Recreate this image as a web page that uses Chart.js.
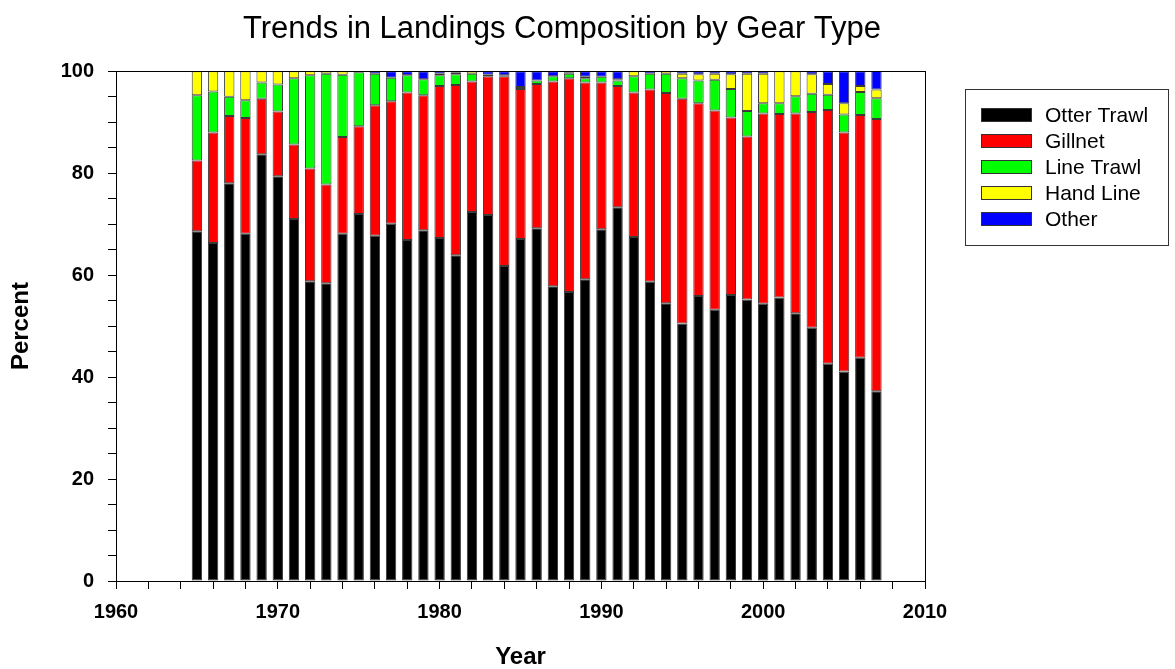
<!DOCTYPE html>
<html lang="en">
  <head>
    <meta charset="UTF-8" />
    <title>Trends in Landings Composition by Gear Type</title>
    <script src="https://cdn.jsdelivr.net/npm/chart.js@4.4.0/dist/chart.umd.min.js"></script>
    <style>
      body { margin: 0; background: #fff; }
    </style>
  </head>
  <body>
    <canvas id="chart" width="1175" height="669"></canvas>
    <script>
      // percent of landings by gear, 1965-2007
      const years = [
        1965, 1966, 1967, 1968, 1969, 1970, 1971, 1972, 1973, 1974, 1975, 1976, 1977, 1978, 1979,
        1980, 1981, 1982, 1983, 1984, 1985, 1986, 1987, 1988, 1989, 1990, 1991, 1992, 1993, 1994,
        1995, 1996, 1997, 1998, 1999, 2000, 2001, 2002, 2003, 2004, 2005, 2006, 2007,
      ];
      const otterTrawl = [
        68.6, 66.3, 78.0, 68.1, 83.7, 79.4, 71.0, 58.8, 58.4, 68.1, 72.0, 67.7, 70.1, 66.9, 68.8,
        67.3, 63.9, 72.4, 71.8, 61.8, 67.1, 69.2, 57.8, 56.7, 59.2, 69.0, 73.3, 67.5, 58.7, 54.5,
        50.5, 55.9, 53.2, 56.1, 55.2, 54.4, 55.6, 52.5, 49.7, 42.6, 41.1, 43.8, 37.2,
      ];
      const gillnet = [
        13.9, 21.7, 13.2, 22.7, 10.9, 12.7, 14.6, 22.1, 19.4, 19.0, 17.2, 25.6, 24.0, 28.9, 26.5,
        29.8, 33.4, 25.6, 27.2, 37.2, 29.4, 28.3, 40.2, 41.9, 38.6, 28.8, 23.8, 28.3, 37.7, 41.2,
        44.1, 37.8, 39.1, 34.8, 32.0, 37.3, 36.0, 39.2, 42.3, 49.8, 46.9, 47.6, 53.4,
      ];
      const lineTrawl = [
        12.8, 8.0, 3.8, 3.5, 3.2, 5.3, 13.0, 18.3, 21.7, 12.2, 10.6, 6.2, 4.6, 3.4, 3.1,
        2.1, 2.1, 1.5, 0.3, 0.2, 0.4, 0.7, 1.0, 0.9, 0.8, 1.1, 1.1, 3.2, 3.1, 3.8,
        4.0, 4.5, 6.0, 5.6, 5.0, 2.0, 2.1, 3.4, 3.6, 3.0, 3.5, 4.5, 4.1,
      ];
      const handLine = [
        4.7, 4.0, 5.0, 5.7, 2.2, 2.6, 1.4, 0.8, 0.5, 0.7, 0.2, 0, 0, 0, 0,
        0.3, 0.3, 0.5, 0, 0, 0, 0, 0, 0.3, 0.3, 0, 0.2, 1.0, 0, 0.5,
        0.9, 1.2, 1.2, 2.9, 7.3, 5.8, 6.3, 4.9, 3.8, 2.1, 2.2, 1.2, 1.7,
      ];
      const other = [
        0, 0, 0, 0, 0, 0, 0, 0, 0, 0, 0, 0.5, 1.3, 0.8, 1.6,
        0.5, 0.3, 0, 0.7, 0.8, 3.1, 1.8, 1.0, 0.2, 1.1, 1.1, 1.6, 0, 0.5, 0,
        0.5, 0.6, 0.5, 0.6, 0.5, 0.5, 0, 0, 0.6, 2.5, 6.3, 2.9, 3.7,
      ];

      const gearNames = ["Otter Trawl", "Gillnet", "Line Trawl", "Hand Line", "Other"];
      const gearColors = ["#000000", "#ff0000", "#00ff00", "#ffff00", "#0000ff"];
      const gearValues = [otterTrawl, gillnet, lineTrawl, handLine, other];

      const fontFamily = "'Liberation Sans', Arial, sans-serif";

      const datasets = gearNames.map((name, k) => ({
        label: name,
        data: years.map((yr, i) => ({ x: yr, y: gearValues[k][i] })),
        backgroundColor: gearColors[k],
        borderColor: "#3a3a3a",
        borderWidth: 1,
        borderSkipped: false,
        categoryPercentage: 1,
        barPercentage: 0.64,
      }));

      // box around the plot area
      const framePlugin = {
        id: "frame",
        afterDatasetsDraw(chart) {
          const { ctx, chartArea } = chart;
          ctx.save();
          ctx.strokeStyle = "#000";
          ctx.lineWidth = 1;
          ctx.strokeRect(
            Math.round(chartArea.left) + 0.5,
            Math.round(chartArea.top) + 0.5,
            Math.round(chartArea.right - chartArea.left),
            Math.round(chartArea.bottom - chartArea.top)
          );
          ctx.restore();
        },
      };

      // legend drawn in the box at right
      const boxLegend = {
        id: "boxLegend",
        afterDraw(chart) {
          const ctx = chart.ctx;
          const left = 965, top = 89, right = 1168, bottom = 245;
          const rowGap = 26;
          ctx.save();
          ctx.strokeStyle = "#333";
          ctx.lineWidth = 1;
          ctx.strokeRect(left + 0.5, top + 0.5, right - left, bottom - top);
          ctx.font = "21px " + fontFamily;
          ctx.textBaseline = "middle";
          ctx.textAlign = "left";
          chart.data.datasets.forEach((ds, i) => {
            const cy = top + 26 + i * rowGap;
            ctx.fillStyle = ds.backgroundColor;
            ctx.fillRect(981, cy - 7, 51, 14);
            ctx.strokeStyle = "#333";
            ctx.strokeRect(981.5, cy - 6.5, 50, 13);
            ctx.fillStyle = "#000";
            ctx.fillText(ds.label, 1045, cy + 1);
          });
          ctx.restore();
        },
      };

      Chart.defaults.color = "#000";
      Chart.defaults.font.family = fontFamily;

      new Chart(document.getElementById("chart"), {
        type: "bar",
        data: { datasets: datasets },
        options: {
          responsive: false,
          animation: false,
          layout: { padding: { left: 0, right: 51, top: 0, bottom: 0 } },
          plugins: {
            legend: { display: false },
            tooltip: { enabled: false },
            title: {
              display: true,
              text: "Trends in Landings Composition by Gear Type",
              font: { size: 31, weight: "normal" },
              color: "#000",
              padding: { top: 11, bottom: 23 },
            },
          },
          scales: {
            x: {
              type: "linear",
              stacked: true,
              min: 1960,
              max: 2010,
              offset: false,
              grid: { display: true, drawOnChartArea: false, offset: false, tickLength: 8, tickColor: "#000" },
              border: { display: true, color: "#000", width: 1 },
              ticks: {
                stepSize: 2,
                autoSkip: false,
                maxRotation: 0,
                padding: 11,
                font: { size: 20, weight: "bold" },
                callback: (v) => (v % 10 === 0 ? String(v) : ""),
              },
              title: {
                display: true,
                text: "Year",
                font: { size: 24, weight: "bold" },
                padding: { top: 0, bottom: -3 },
              },
              afterFit: (s) => { s.height = 88; },
            },
            y: {
              stacked: true,
              min: 0,
              max: 100,
              grid: { display: true, drawOnChartArea: false, tickLength: 8, tickColor: "#000" },
              border: { display: true, color: "#000", width: 1 },
              ticks: {
                stepSize: 5,
                autoSkip: false,
                padding: 14,
                font: { size: 20, weight: "bold" },
                callback: (v) => (v % 20 === 0 ? String(v) : ""),
              },
              title: {
                display: true,
                text: "Percent",
                font: { size: 24, weight: "bold" },
                padding: { top: 7, bottom: 0 },
              },
              afterFit: (s) => { s.width = 116; },
            },
            // empty axis on the right, keeps room for the legend box
            side: {
              type: "linear",
              position: "right",
              display: true,
              grid: { display: false },
              border: { display: false },
              ticks: { display: false },
              afterFit: (s) => { s.width = 199; },
            },
          },
        },
        plugins: [framePlugin, boxLegend],
      });
    </script>
  </body>
</html>
